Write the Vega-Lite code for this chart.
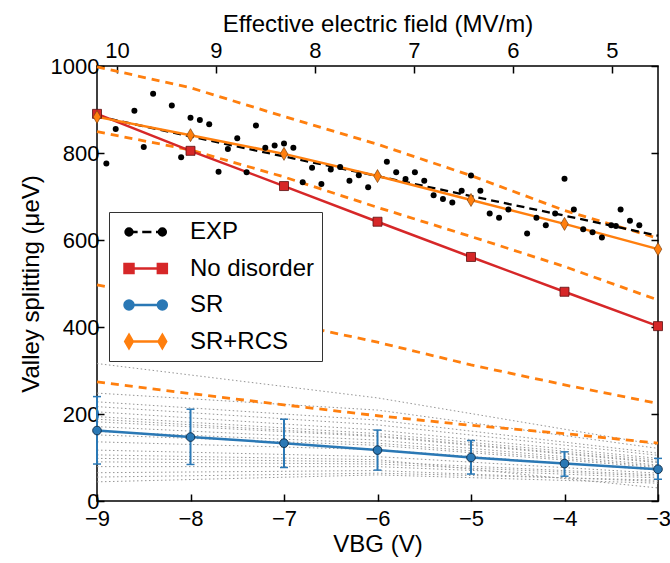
{
  "$schema": "https://vega.github.io/schema/vega-lite/v6.json",
  "width": 561,
  "height": 435,
  "autosize": {"type": "none"},
  "padding": {"left": 97, "top": 66, "right": 12, "bottom": 62},
  "config": {
    "font": "Liberation Sans",
    "view": {"stroke": "black", "strokeWidth": 1.5},
    "axis": {"grid": false, "domain": false, "tickColor": "black", "tickWidth": 1.5, "tickSize": -7, "labelColor": "black", "titleColor": "black", "labelFontSize": 22, "titleFontSize": 24, "titleFontWeight": "normal", "labelFont": "Liberation Sans", "titleFont": "Liberation Sans"}
  },
  "datasets": {
    "exp": [
      {"V": -8.9, "val": 776}, {"V": -8.8, "val": 855}, {"V": -8.6, "val": 897}, {"V": -8.5, "val": 814},
      {"V": -8.4, "val": 936}, {"V": -8.2, "val": 909}, {"V": -8.1, "val": 790}, {"V": -8.0, "val": 881},
      {"V": -7.9, "val": 876}, {"V": -7.8, "val": 866}, {"V": -7.7, "val": 757}, {"V": -7.6, "val": 809},
      {"V": -7.5, "val": 834}, {"V": -7.4, "val": 756}, {"V": -7.3, "val": 863}, {"V": -7.2, "val": 812},
      {"V": -7.1, "val": 817}, {"V": -7.0, "val": 822}, {"V": -6.9, "val": 812}, {"V": -6.8, "val": 733},
      {"V": -6.7, "val": 766}, {"V": -6.6, "val": 729}, {"V": -6.5, "val": 762}, {"V": -6.4, "val": 768},
      {"V": -6.3, "val": 736}, {"V": -6.2, "val": 749}, {"V": -6.1, "val": 721}, {"V": -5.9, "val": 780},
      {"V": -5.8, "val": 756}, {"V": -5.7, "val": 740}, {"V": -5.6, "val": 756}, {"V": -5.5, "val": 736},
      {"V": -5.4, "val": 703}, {"V": -5.3, "val": 694}, {"V": -5.2, "val": 686}, {"V": -5.1, "val": 713},
      {"V": -5.0, "val": 748}, {"V": -4.9, "val": 713}, {"V": -4.8, "val": 661}, {"V": -4.7, "val": 651},
      {"V": -4.6, "val": 670}, {"V": -4.4, "val": 615}, {"V": -4.3, "val": 651}, {"V": -4.2, "val": 634},
      {"V": -4.1, "val": 661}, {"V": -4.0, "val": 741}, {"V": -3.9, "val": 670}, {"V": -3.8, "val": 625},
      {"V": -3.7, "val": 618}, {"V": -3.6, "val": 606}, {"V": -3.5, "val": 634}, {"V": -3.45, "val": 632},
      {"V": -3.4, "val": 670}, {"V": -3.3, "val": 644}, {"V": -3.2, "val": 634}
    ],
    "expfit": [
      {"V": -9, "val": 885}, {"V": -8, "val": 838}, {"V": -7, "val": 792}, {"V": -6, "val": 747},
      {"V": -5, "val": 701}, {"V": -4, "val": 656}, {"V": -3, "val": 610}
    ],
    "main": [
      {"series": "No disorder", "V": -9, "val": 890}, {"series": "No disorder", "V": -8, "val": 805},
      {"series": "No disorder", "V": -7, "val": 724}, {"series": "No disorder", "V": -6, "val": 642},
      {"series": "No disorder", "V": -5, "val": 561}, {"series": "No disorder", "V": -4, "val": 481},
      {"series": "No disorder", "V": -3, "val": 402},
      {"series": "SR", "V": -9, "val": 162}, {"series": "SR", "V": -8, "val": 147},
      {"series": "SR", "V": -7, "val": 133}, {"series": "SR", "V": -6, "val": 117},
      {"series": "SR", "V": -5, "val": 100}, {"series": "SR", "V": -4, "val": 86},
      {"series": "SR", "V": -3, "val": 73},
      {"series": "SR+RCS", "V": -9, "val": 883}, {"series": "SR+RCS", "V": -8, "val": 841},
      {"series": "SR+RCS", "V": -7, "val": 798}, {"series": "SR+RCS", "V": -6, "val": 747},
      {"series": "SR+RCS", "V": -5, "val": 692}, {"series": "SR+RCS", "V": -4, "val": 637},
      {"series": "SR+RCS", "V": -3, "val": 579}
    ],
    "err": [
      {"V": -9, "lo": 85, "hi": 240}, {"V": -8, "lo": 84, "hi": 211}, {"V": -7, "lo": 77, "hi": 188},
      {"V": -6, "lo": 71, "hi": 163}, {"V": -5, "lo": 62, "hi": 139}, {"V": -4, "lo": 57, "hi": 113},
      {"V": -3, "lo": 50, "hi": 98}
    ],
    "dashed": [
      {"id": "D1", "V": -9, "val": 998}, {"id": "D1", "V": -8, "val": 950}, {"id": "D1", "V": -7, "val": 884},
      {"id": "D1", "V": -6, "val": 820}, {"id": "D1", "V": -5, "val": 748}, {"id": "D1", "V": -4, "val": 668},
      {"id": "D1", "V": -3, "val": 604},
      {"id": "D2", "V": -9, "val": 849}, {"id": "D2", "V": -8, "val": 807}, {"id": "D2", "V": -7, "val": 745},
      {"id": "D2", "V": -6, "val": 675}, {"id": "D2", "V": -5, "val": 608}, {"id": "D2", "V": -4, "val": 539},
      {"id": "D2", "V": -3, "val": 462},
      {"id": "D3", "V": -9, "val": 497}, {"id": "D3", "V": -8, "val": 454}, {"id": "D3", "V": -7, "val": 411},
      {"id": "D3", "V": -6, "val": 365}, {"id": "D3", "V": -5, "val": 313}, {"id": "D3", "V": -4, "val": 267},
      {"id": "D3", "V": -3, "val": 224},
      {"id": "D4", "V": -9, "val": 274}, {"id": "D4", "V": -8, "val": 247}, {"id": "D4", "V": -7, "val": 221},
      {"id": "D4", "V": -6, "val": 196}, {"id": "D4", "V": -5, "val": 174}, {"id": "D4", "V": -4, "val": 155},
      {"id": "D4", "V": -3, "val": 133}
    ],
    "dotted": [
      {"id": 1, "V": -9, "val": 316}, {"id": 1, "V": -6, "val": 237}, {"id": 1, "V": -3, "val": 129},
      {"id": 2, "V": -9, "val": 248}, {"id": 2, "V": -6, "val": 209}, {"id": 2, "V": -3, "val": 121},
      {"id": 3, "V": -9, "val": 228}, {"id": 3, "V": -6, "val": 186}, {"id": 3, "V": -3, "val": 110},
      {"id": 4, "V": -9, "val": 217}, {"id": 4, "V": -6, "val": 175}, {"id": 4, "V": -3, "val": 105},
      {"id": 5, "V": -9, "val": 205}, {"id": 5, "V": -6, "val": 163}, {"id": 5, "V": -3, "val": 98},
      {"id": 6, "V": -9, "val": 194}, {"id": 6, "V": -6, "val": 155}, {"id": 6, "V": -3, "val": 94},
      {"id": 7, "V": -9, "val": 182}, {"id": 7, "V": -6, "val": 148}, {"id": 7, "V": -3, "val": 88},
      {"id": 8, "V": -9, "val": 171}, {"id": 8, "V": -6, "val": 140}, {"id": 8, "V": -3, "val": 83},
      {"id": 9, "V": -9, "val": 152}, {"id": 9, "V": -6, "val": 128}, {"id": 9, "V": -3, "val": 77},
      {"id": 10, "V": -9, "val": 136}, {"id": 10, "V": -6, "val": 118}, {"id": 10, "V": -3, "val": 71},
      {"id": 11, "V": -9, "val": 117}, {"id": 11, "V": -6, "val": 102}, {"id": 11, "V": -3, "val": 64},
      {"id": 12, "V": -9, "val": 98}, {"id": 12, "V": -6, "val": 90}, {"id": 12, "V": -3, "val": 60},
      {"id": 13, "V": -9, "val": 79}, {"id": 13, "V": -6, "val": 79}, {"id": 13, "V": -3, "val": 53},
      {"id": 14, "V": -9, "val": 65}, {"id": 14, "V": -6, "val": 70}, {"id": 14, "V": -3, "val": 45},
      {"id": 15, "V": -9, "val": 44}, {"id": 15, "V": -6, "val": 60}, {"id": 15, "V": -3, "val": 41},
      {"id": 16, "V": -9, "val": 106}, {"id": 16, "V": -6, "val": 95}, {"id": 16, "V": -3, "val": 30},
      {"id": 17, "V": -9, "val": 160}, {"id": 17, "V": -6, "val": 133}, {"id": 17, "V": -3, "val": 80},
      {"id": 18, "V": -9, "val": 188}, {"id": 18, "V": -6, "val": 150}, {"id": 18, "V": -3, "val": 90},
      {"id": 19, "V": -9, "val": 90}, {"id": 19, "V": -6, "val": 85}, {"id": 19, "V": -3, "val": 57},
      {"id": 20, "V": -9, "val": 55}, {"id": 20, "V": -6, "val": 64}, {"id": 20, "V": -3, "val": 48}
    ]
  },
  "layer": [
    {
      "encoding": {
        "x": {"field": "V", "type": "quantitative", "scale": {"domain": [-9, -3], "nice": false, "zero": false},
          "axis": {"orient": "bottom", "values": [-9, -8, -7, -6, -5, -4, -3], "format": "d", "labelPadding": 14, "title": "VBG (V)", "titlePadding": 3, "labelFlush": false,
            "encode": {"labels": {"update": {"dx": {"signal": "datum.value === -9 ? 8 : 0"}}}}}},
        "y": {"field": "val", "type": "quantitative", "scale": {"domain": [0, 1000], "nice": false, "zero": false},
          "axis": {"orient": "left", "values": [0, 200, 400, 600, 800, 1000], "format": "d", "labelPadding": 5, "title": "Valley splitting (μeV)", "titlePadding": 7,
            "encode": {"labels": {"update": {"dy": {"signal": "datum.value === 0 ? -10 : 0"}}}}}}
      },
      "layer": [
        {"data": {"name": "dotted"}, "mark": {"type": "line", "color": "#959595", "strokeWidth": 1, "strokeDash": [1.5, 2.5]}, "encoding": {"detail": {"field": "id"}}},
        {"data": {"name": "dashed"}, "mark": {"type": "line", "color": "#ff7f0e", "strokeWidth": 2.8, "strokeDash": [8, 6]}, "encoding": {"detail": {"field": "id"}}},
        {"data": {"name": "expfit"}, "mark": {"type": "line", "color": "black", "strokeWidth": 2.3, "strokeDash": [8, 5]}, "encoding": {}},
        {"data": {"name": "main"}, "mark": {"type": "line", "strokeWidth": 2.5},
          "encoding": {"color": {"field": "series", "type": "nominal",
            "scale": {"domain": ["EXP", "No disorder", "SR", "SR+RCS"], "range": ["black", "#d62728", "#2a78b5", "#ff7f0e"]},
            "legend": {"orient": "none", "legendX": 12, "legendY": 146, "title": null, "padding": 7, "strokeColor": "#333", "fillColor": "white",
              "symbolSize": 529, "symbolStrokeWidth": 2.5, "labelFontSize": 24, "labelOffset": 48, "rowPadding": 11.5, "labelColor": "black", "labelLimit": 300, "symbolOpacity": 1,
              "encode": {"symbols": {"update": {
                "shape": {"signal": "datum.value === 'EXP' ? 'M0.3,0A0.3,0.3 0 1,1 -0.3,0A0.3,0.3 0 1,1 0.3,0ZM3.2,0A0.3,0.3 0 1,1 2.6,0A0.3,0.3 0 1,1 3.2,0ZM0,0L0.75,0M1.15,0L1.95,0M2.35,0L2.9,0' : datum.value === 'No disorder' ? 'M-0.39,-0.39L0.39,-0.39L0.39,0.39L-0.39,0.39ZM2.51,-0.39L3.29,-0.39L3.29,0.39L2.51,0.39ZM0,0L2.9,0' : datum.value === 'SR' ? 'M0.39,0A0.39,0.39 0 1,1 -0.39,0A0.39,0.39 0 1,1 0.39,0ZM3.29,0A0.39,0.39 0 1,1 2.51,0A0.39,0.39 0 1,1 3.29,0ZM0,0L2.9,0' : 'M0,-0.565L0.33,0L0,0.565L-0.33,0ZM2.9,-0.565L3.23,0L2.9,0.565L2.57,0ZM0,0L2.9,0'"},
                "fill": {"signal": "datum.value === 'EXP' ? 'black' : datum.value === 'No disorder' ? '#d62728' : datum.value === 'SR' ? '#2a78b5' : '#ff7f0e'"},
                "stroke": {"signal": "datum.value === 'EXP' ? 'black' : datum.value === 'No disorder' ? '#d62728' : datum.value === 'SR' ? '#2a78b5' : '#ff7f0e'"},
                "fillOpacity": {"value": 1}
              }}}
            }}}},
        {"data": {"name": "err"}, "mark": {"type": "rule", "color": "#2a78b5", "strokeWidth": 2}, "encoding": {"y": {"field": "lo", "type": "quantitative"}, "y2": {"field": "hi"}}},
        {"data": {"name": "err"}, "mark": {"type": "tick", "orient": "horizontal", "color": "#2a78b5", "size": 8, "thickness": 1.5, "opacity": 1}, "encoding": {"y": {"field": "lo", "type": "quantitative"}}},
        {"data": {"name": "err"}, "mark": {"type": "tick", "orient": "horizontal", "color": "#2a78b5", "size": 8, "thickness": 1.5, "opacity": 1}, "encoding": {"y": {"field": "hi", "type": "quantitative"}}},
        {"data": {"name": "exp"}, "mark": {"type": "circle", "color": "black", "size": 36, "opacity": 1}},
        {"data": {"name": "main"}, "transform": [{"filter": "datum.series === 'No disorder'"}], "mark": {"type": "square", "color": "#d62728", "size": 81, "opacity": 1, "stroke": "#5a1010", "strokeWidth": 0.8}},
        {"data": {"name": "main"}, "transform": [{"filter": "datum.series === 'SR'"}], "mark": {"type": "circle", "color": "#2a78b5", "size": 75, "opacity": 1, "stroke": "#0d2a45", "strokeWidth": 0.9}},
        {"data": {"name": "main"}, "transform": [{"filter": "datum.series === 'SR+RCS'"}], "mark": {"type": "point", "filled": true, "shape": "M0,-1L0.58,0L0,1L-0.58,0Z", "color": "#ff7f0e", "size": 169, "opacity": 1, "stroke": "#7a4010", "strokeWidth": 0.7}}
      ]
    },
    {
      "data": {"values": [{"E": 10, "v": 0}]},
      "mark": {"type": "point", "opacity": 0},
      "encoding": {
        "x": {"field": "E", "type": "quantitative", "scale": {"domain": [4.535, 10.202], "reverse": true, "nice": false, "zero": false},
          "axis": {"orient": "top", "values": [10, 9, 8, 7, 6, 5], "labelPadding": 11, "title": "Effective electric field (MV/m)", "titlePadding": 3}},
        "y": {"field": "v", "type": "quantitative", "scale": {"domain": [0, 1000], "nice": false, "zero": false},
          "axis": {"orient": "right", "values": [0, 200, 400, 600, 800, 1000], "labels": false, "title": null}}
      }
    }
  ],
  "resolve": {"scale": {"x": "independent", "y": "independent"}}
}
